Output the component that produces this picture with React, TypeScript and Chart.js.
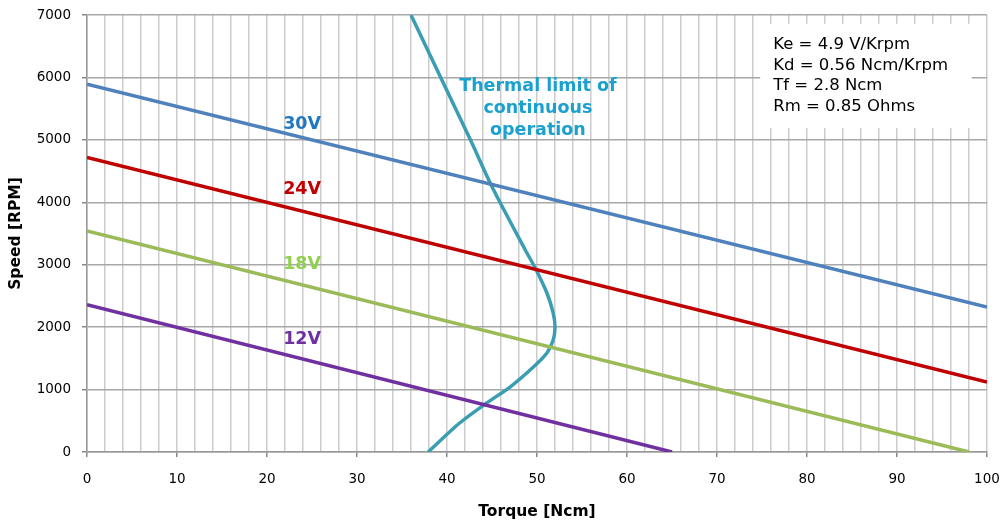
import React, { useEffect, useRef } from "react";
import { Chart, registerables } from "chart.js";

Chart.register(...registerables);

// Motor speed/torque lines: [torque, speed] endpoints
const torque30V = [0, 100];
const speed30V = [5890, 2320];
const torque24V = [0, 100];
const speed24V = [4720, 1120];
const torque18V = [0, 98];
const speed18V = [3540, 0];
const torque12V = [0, 65];
const speed12V = [2360, 0];

// Thermal limit curve
const thermalTorque = [37.9, 41.4, 44.4, 47, 49.6, 51.1, 51.8, 52.0, 51.8, 51.1, 49.8, 48.7, 45, 42.6, 39.3, 36];
const thermalSpeed = [0, 464, 785, 1041, 1362, 1586, 1794, 2002, 2226, 2547, 2947, 3236, 4250, 5000, 6000, 7000];

const xTickLabels = [0, 10, 20, 30, 40, 50, 60, 70, 80, 90, 100];

// Voltage labels: text, torque, speed
const voltLabels = ["30V", "24V", "18V", "12V"];
const voltLabelTorque = [23.9, 23.9, 23.9, 23.9];
const voltLabelSpeed = [5254, 4213, 3011, 1810];
const voltLabelColors = ["#1F78C1", "#C00000", "#92D050", "#7030A0"];

const thermalLines = ["Thermal limit of", "continuous", "operation"];
const thermalLabelTorque = 50.1;
const thermalLabelSpeed = [5862, 5510, 5158];

const paramLines = ["Ke = 4.9 V/Krpm", "Kd = 0.56 Ncm/Krpm", "Tf = 2.8 Ncm", "Rm = 0.85 Ohms"];

function pts(xs: number[], ys: number[]) {
  return xs.map((x, i) => ({ x, y: ys[i] }));
}

export default function App() {
  const ref = useRef<HTMLCanvasElement | null>(null);
  useEffect(() => {
    if (!ref.current) return;
    const annot = {
      id: "annot",
      beforeDatasetsDraw(chart: any) {
        const { ctx, scales } = chart;
        const xs = scales.x, ys = scales.y;
        const bx0 = xs.getPixelForValue(74.8);
        const bx1 = xs.getPixelForValue(98.3);
        const by0 = ys.getPixelForValue(6860);
        const by1 = ys.getPixelForValue(5190);
        ctx.save();
        ctx.fillStyle = "#ffffff";
        ctx.fillRect(bx0, by0, bx1 - bx0, by1 - by0);
        ctx.fillStyle = "#000000";
        ctx.font = "16.5px 'DejaVu Sans'";
        ctx.textBaseline = "middle";
        ctx.textAlign = "left";
        paramLines.forEach((t, i) => {
          ctx.fillText(t, bx0 + 13, by0 + 21 + i * 20.5);
        });
        ctx.restore();
      },
      afterDatasetsDraw(chart: any) {
        const { ctx, scales } = chart;
        const xs = scales.x, ys = scales.y;
        ctx.save();
        ctx.textAlign = "center";
        ctx.textBaseline = "middle";
        ctx.font = "bold 17.5px 'DejaVu Sans'";
        voltLabels.forEach((t, i) => {
          ctx.fillStyle = voltLabelColors[i];
          ctx.fillText(t, xs.getPixelForValue(voltLabelTorque[i]), ys.getPixelForValue(voltLabelSpeed[i]));
        });
        ctx.fillStyle = "#1BA1D0";
        thermalLines.forEach((t, i) => {
          ctx.fillText(t, xs.getPixelForValue(thermalLabelTorque), ys.getPixelForValue(thermalLabelSpeed[i]));
        });
        ctx.restore();
      },
      afterDraw(chart: any) {
        const { ctx, scales } = chart;
        const xs = scales.x;
        ctx.save();
        ctx.textAlign = "center";
        ctx.textBaseline = "middle";
        ctx.fillStyle = "#000000";
        ctx.font = "13.5px 'DejaVu Sans'";
        xTickLabels.forEach((v) => {
          ctx.fillText(String(v), xs.getPixelForValue(v), xs.top + 27);
        });
        ctx.restore();
      },
    };
    const lineDs = (data: any[], color: string) => ({
      data,
      borderColor: color,
      backgroundColor: color,
      borderWidth: 3.5,
      pointRadius: 0,
      showLine: true,
      fill: false,
    });
    const chart = new Chart(ref.current, {
      type: "scatter",
      data: {
        datasets: [
          lineDs(pts(torque30V, speed30V), "#4F81BD"),
          lineDs(pts(torque24V, speed24V), "#C00000"),
          lineDs(pts(torque18V, speed18V), "#9BBB59"),
          lineDs(pts(torque12V, speed12V), "#7030A0"),
          { ...lineDs(pts(thermalTorque, thermalSpeed), "#3A9DB2"), tension: 0.25 },
        ],
      },
      options: {
        animation: false,
        responsive: false,
        maintainAspectRatio: false,
        layout: { padding: { left: 0, top: 15, right: 15, bottom: 0 } },
        plugins: { legend: { display: false }, tooltip: { enabled: false } },
        scales: {
          x: {
            type: "linear",
            min: 0,
            max: 100,
            afterFit: (s: any) => {
              s.height = 75;
              s.paddingLeft = 0;
              s.paddingRight = 0;
            },
            ticks: {
              stepSize: 2,
              autoSkip: false,
              maxRotation: 0,
              color: "rgba(0,0,0,0)",
              padding: 6,
              font: { family: "'DejaVu Sans'", size: 13.5 },
              callback: () => "",
            },
            grid: {
              color: "#CCCCCC",
              lineWidth: 1.5,
              tickLength: 5,
              tickColor: (c: any) => (c.tick && xTickLabels.includes(c.tick.value) ? "#888888" : "rgba(0,0,0,0)"),
            },
            border: { color: "#999999", width: 1.5 },
            title: {
              display: true,
              text: "Torque [Ncm]",
              color: "#000",
              font: { family: "'DejaVu Sans'", size: 15.5, weight: "bold" },
              padding: { top: 0, bottom: 6 },
            },
          },
          y: {
            type: "linear",
            min: 0,
            max: 7000,
            afterFit: (s: any) => {
              s.width = 87;
              s.paddingTop = 0;
              s.paddingBottom = 0;
            },
            ticks: {
              stepSize: 1000,
              color: "#000",
              padding: 11,
              font: { family: "'DejaVu Sans'", size: 13.5 },
              callback: (v: any) => String(v),
            },
            grid: { color: "#A8A8A8", lineWidth: 1.5, tickLength: 5, tickColor: "#888888" },
            border: { color: "#999999", width: 1.5 },
            title: {
              display: true,
              text: "Speed [RPM]",
              color: "#000",
              font: { family: "'DejaVu Sans'", size: 15.5, weight: "bold" },
              padding: { top: 7, bottom: 0 },
            },
          },
        },
      } as any,
      plugins: [annot],
    });
    return () => chart.destroy();
  }, []);
  return (
    <div style={{ position: "fixed", left: 0, top: 0, width: 1002, height: 527, background: "#fff" }}>
      <canvas ref={ref} width={1002} height={527} style={{ width: 1002, height: 527 }} />
    </div>
  );
}
